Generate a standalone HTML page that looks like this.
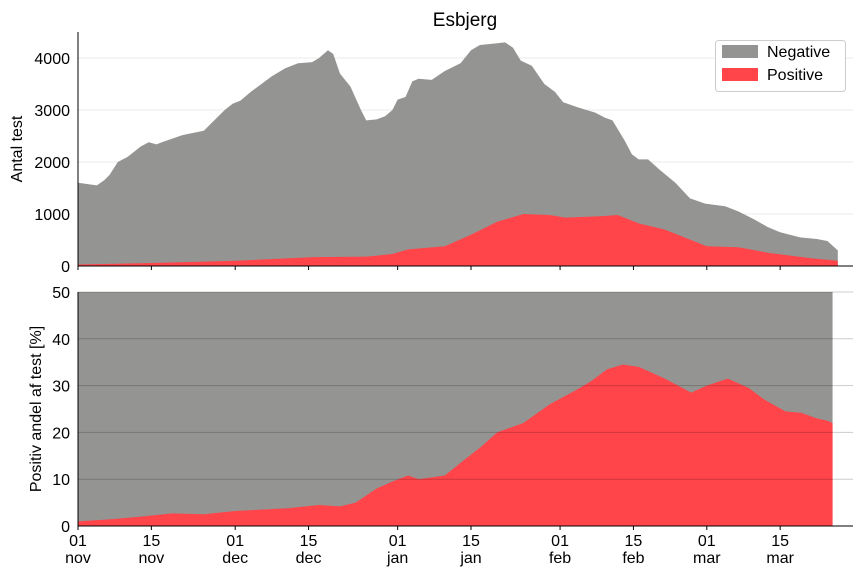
<!DOCTYPE html>
<html><head><meta charset="utf-8"><style>
body{margin:0;background:#fff;font-family:"Liberation Sans",sans-serif}
svg text{font-family:"Liberation Sans",sans-serif;fill:#000}
</style></head><body>
<svg id="c" width="864" height="576" xmlns="http://www.w3.org/2000/svg"></svg>
<script>
const totDays=[0,3.6,5,6,7.6,9.5,12,13.5,15,16,18,20,24,26,28,29.5,31,33,35,37,39.5,42,44.7,46,47.7,48.7,50,52,54,55,57,58.6,60,61,62.5,63.8,65,67.5,70,73,75,76.7,79.6,81.5,83,84.5,86.6,89,91,92.6,95.4,98.7,100.6,102,104.4,105.7,107,108.8,111,114,116.8,119.7,123.5,126,129,131.6,134,137.8,141,143,145];
const totVals=[1600,1550,1650,1750,2000,2100,2300,2380,2340,2380,2450,2520,2600,2800,3000,3120,3180,3350,3500,3650,3800,3900,3920,4000,4150,4080,3700,3450,3000,2800,2820,2880,3000,3200,3250,3550,3600,3580,3750,3900,4150,4250,4280,4300,4200,3950,3850,3500,3350,3150,3050,2950,2850,2800,2400,2150,2050,2050,1850,1600,1300,1200,1150,1050,900,750,650,550,520,480,300];
const posDays=[0,15,30,45,55,60,63,70,75,80,85,90,93,100,103,107,112,117,120,126,132,140,145];
const posVals=[30,60,100,170,180,230,320,380,600,850,1000,980,930,960,980,820,700,500,380,360,250,150,100];
const pctDays=[0,7,12,18,24,30,40,46,50,53,57,60,63,65,70,73,77,80,85,90,95,98,101,104,107,109,112,117,120,124,128,131,135,138,141,143,144];
const pctVals=[1,1.5,2,2.7,2.5,3.2,3.8,4.5,4.2,5,8,9.5,10.8,10,10.8,13.5,17,20,22,26,29,31,33.5,34.5,34,33,31.5,28.5,30,31.5,29.5,27,24.5,24.2,23,22.5,22];
const xTickDays=[0,14,30,44,61,75,92,106,120,134];
const xTickLabels=[["01","nov"],["15","nov"],["01","dec"],["15","dec"],["01","jan"],["15","jan"],["01","feb"],["15","feb"],["01","mar"],["15","mar"]];
const topTicks=[0,1000,2000,3000,4000];
const botTicks=[0,10,20,30,40,50];

const NS="http://www.w3.org/2000/svg",svg=document.getElementById('c');
const X=d=>78+d*5.24;
const Y1=v=>266-v*0.052;
const Y2=v=>526-v*4.68;
function el(t,a,p){const e=document.createElementNS(NS,t);for(const k in a)e.setAttribute(k,a[k]);(p||svg).appendChild(e);return e;}
function area(days,vals,Y,base){let d=`M${X(days[0])},${Y(base)}`;days.forEach((x,i)=>d+=`L${X(x)},${Y(vals[i])}`);d+=`L${X(days[days.length-1])},${Y(base)}Z`;return d;}
function txt(x,y,s,o){const t=el('text',Object.assign({x:x,y:y,'font-size':16},o||{}));t.textContent=s;return t;}

topTicks.forEach(v=>{if(v>0){const g=el('line',{x1:78,x2:853,y1:Y1(v),y2:Y1(v),stroke:'#ebebeb'});}
 const t=txt(70,Y1(v)+6,v,{'text-anchor':'end'});});
let a=el('path',{d:area(totDays,totVals,Y1,0),fill:'#949593'});

a=el('path',{d:area(posDays,posVals,Y1,0),fill:'#ff454a'});

el('line',{x1:78,x2:78,y1:32,y2:266,stroke:'#000'});
el('line',{x1:78,x2:853,y1:266,y2:266,stroke:'#000'});
xTickDays.forEach(d=>el('line',{x1:X(d),x2:X(d),y1:266,y2:270,stroke:'#000'}));
let t=txt(465,26,'Esbjerg',{'text-anchor':'middle','font-size':19});
t=txt(0,0,'Antal test',{'text-anchor':'middle',transform:'translate(22,149) rotate(-90)'});
const lg=el('g',{});
el('rect',{x:715.5,y:40.5,width:130,height:51,rx:3,fill:'#fff',stroke:'#ccc'},lg);
el('rect',{x:722,y:45,width:36,height:13,fill:'#949593'},lg);
el('rect',{x:722,y:68,width:36,height:13,fill:'#ff454a'},lg);
txt(767,57,'Negative',{},lg);txt(767,80,'Positive',{},lg);

a=el('path',{d:area([0,144],[50,50],Y2,0),fill:'#949593'});

a=el('path',{d:area(pctDays,pctVals,Y2,0),fill:'#ff454a'});

botTicks.forEach(v=>{if(v>0){const g=el('line',{x1:78,x2:853,y1:Y2(v),y2:Y2(v),stroke:'#000','stroke-opacity':0.2});}
 const t=txt(70,Y2(v)+6,v,{'text-anchor':'end'});});
el('line',{x1:78,x2:78,y1:292,y2:526,stroke:'#000'});
el('line',{x1:78,x2:853,y1:526,y2:526,stroke:'#000'});
xTickDays.forEach((d,i)=>{el('line',{x1:X(d),x2:X(d),y1:526,y2:530,stroke:'#000'});
 const a1=txt(X(d),546,xTickLabels[i][0],{'text-anchor':'middle'});
 const a2=txt(X(d),563,xTickLabels[i][1],{'text-anchor':'middle'});});
t=txt(0,0,'Positiv andel af test [%]',{'text-anchor':'middle',transform:'translate(41,409) rotate(-90)'});
</script>
</body></html>
